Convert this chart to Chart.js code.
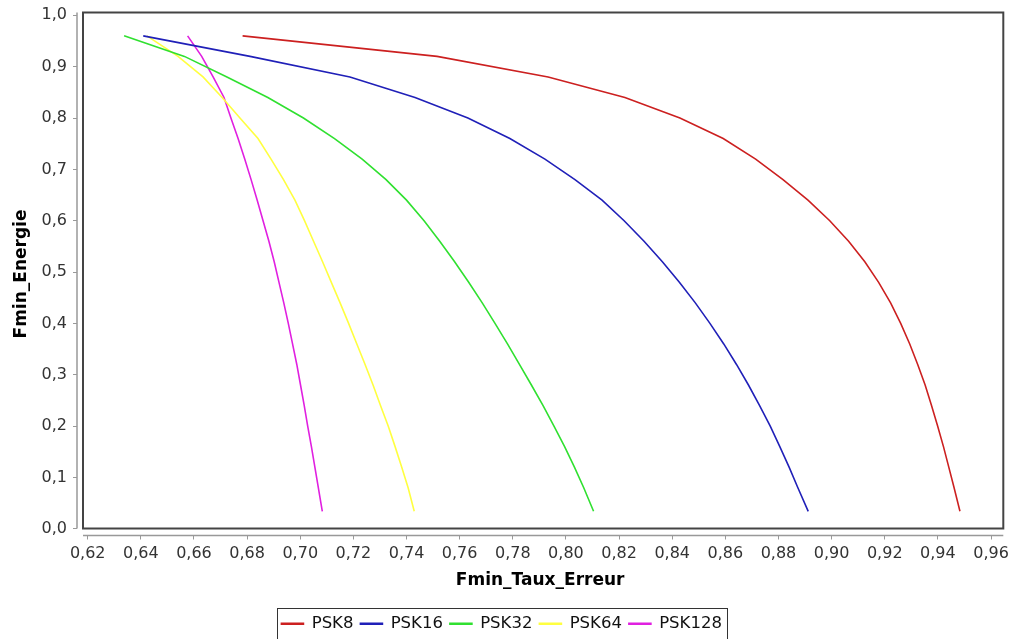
<!DOCTYPE html>
<html>
<head>
<meta charset="utf-8">
<script src="https://cdn.jsdelivr.net/npm/chart.js@4.4.0/dist/chart.umd.min.js"></script>
<style>
  html, body { margin: 0; padding: 0; background: #fff; }
  canvas { display: block; }
</style>
</head>
<body>
<canvas id="myChart" width="1013" height="639"></canvas>
<script>
// Fmin_Energie levels, shared by every curve
var energie = [0.96, 0.92, 0.88, 0.84, 0.80, 0.76, 0.72, 0.68, 0.64, 0.60, 0.56, 0.52,
  0.48, 0.44, 0.40, 0.36, 0.32, 0.28, 0.24, 0.20, 0.16, 0.12, 0.08, 0.034];

// Fmin_Taux_Erreur of each modulation, one value per energie level
var psk8 = [0.6783, 0.7515, 0.7933, 0.8222, 0.8429, 0.8592, 0.8714, 0.8817, 0.8911, 0.8993, 0.9064, 0.9125,
  0.9177, 0.9222, 0.9260, 0.9294, 0.9324, 0.9352, 0.9376, 0.9399, 0.9421, 0.9441, 0.9461, 0.9483];
var psk16 = [0.6409, 0.6811, 0.7187, 0.7432, 0.7631, 0.7789, 0.7921, 0.8034, 0.8136, 0.8219, 0.8294, 0.8363,
  0.8427, 0.8487, 0.8542, 0.8594, 0.8642, 0.8687, 0.8729, 0.8769, 0.8805, 0.8840, 0.8873, 0.8912];
var psk32 = [0.6337, 0.6564, 0.6724, 0.6878, 0.7012, 0.7129, 0.7233, 0.7323, 0.7400, 0.7466, 0.7525, 0.7581,
  0.7634, 0.7685, 0.7733, 0.7780, 0.7825, 0.7870, 0.7914, 0.7955, 0.7995, 0.8032, 0.8067, 0.8104];
var psk64 = [0.6423, 0.6540, 0.6634, 0.6706, 0.6773, 0.6841, 0.6890, 0.6937, 0.6980, 0.7016, 0.7050, 0.7084,
  0.7117, 0.7150, 0.7182, 0.7213, 0.7244, 0.7274, 0.7302, 0.7331, 0.7357, 0.7382, 0.7406, 0.7429];
var psk128 = [0.6576, 0.6629, 0.6672, 0.6713, 0.6739, 0.6766, 0.6791, 0.6815, 0.6838, 0.6860, 0.6882, 0.6902,
  0.6920, 0.6938, 0.6955, 0.6971, 0.6987, 0.7001, 0.7015, 0.7028, 0.7042, 0.7055, 0.7068, 0.7083];

var seriesNames = ['PSK8', 'PSK16', 'PSK32', 'PSK64', 'PSK128'];
var seriesValues = [psk8, psk16, psk32, psk64, psk128];
var seriesColors = ['#cc2020', '#2020b8', '#30e030', '#ffff40', '#e020e0'];

var xTicks = [0.62, 0.64, 0.66, 0.68, 0.70, 0.72, 0.74, 0.76, 0.78, 0.80, 0.82, 0.84, 0.86, 0.88, 0.90, 0.92, 0.94, 0.96];
var yTicks = [0.0, 0.1, 0.2, 0.3, 0.4, 0.5, 0.6, 0.7, 0.8, 0.9, 1.0];

var FONT = '"DejaVu Sans", Verdana, sans-serif';
var AXIS_GAP_X = 6; // space between y axis line and plot frame
var AXIS_GAP_Y = 7; // space between x axis line and plot frame

function commaLabel(v, digits) {
  return Number(v).toFixed(digits).replace('.', ',');
}

var datasets = seriesNames.map(function (name, i) {
  return {
    label: name,
    data: seriesValues[i].map(function (x, j) { return { x: x, y: energie[j] }; }),
    borderColor: seriesColors[i],
    backgroundColor: seriesColors[i],
    borderWidth: 1.6,
    showLine: true,
    pointRadius: 0,
    fill: false,
    tension: 0
  };
});

var framePlugin = {
  id: 'frame',
  beforeDraw: function (chart) {
    var ctx = chart.ctx;
    ctx.save();
    ctx.fillStyle = '#fff';
    ctx.fillRect(0, 0, chart.width, chart.height);
    ctx.restore();
  },
  afterDraw: function (chart) {
    var ctx = chart.ctx;
    var a = chart.chartArea;
    ctx.save();
    // axis lines, offset from the plot like the original
    ctx.strokeStyle = '#999';
    ctx.lineWidth = 1.5;
    ctx.beginPath();
    ctx.moveTo(a.left, a.top);
    ctx.lineTo(a.left, a.bottom - AXIS_GAP_Y);
    ctx.moveTo(a.left + AXIS_GAP_X, a.bottom);
    ctx.lineTo(a.right, a.bottom);
    ctx.stroke();
    // plot frame
    ctx.strokeStyle = '#444';
    ctx.lineWidth = 2;
    ctx.strokeRect(a.left + AXIS_GAP_X, a.top, a.right - a.left - AXIS_GAP_X, a.bottom - AXIS_GAP_Y - a.top);
    // legend border
    var boxes = chart.legend.legendHitBoxes;
    if (boxes && boxes.length) {
      var minX = Infinity, maxX = -Infinity, minY = Infinity;
      boxes.forEach(function (b) {
        minX = Math.min(minX, b.left);
        maxX = Math.max(maxX, b.left + b.width);
        minY = Math.min(minY, b.top);
      });
      ctx.strokeStyle = '#333';
      ctx.lineWidth = 1;
      ctx.strokeRect(Math.round(minX - 4) + 0.5, Math.round(minY - 8) + 0.5, Math.round(maxX - minX + 10), 60);
    }
    ctx.restore();
  }
};

new Chart(document.getElementById('myChart').getContext('2d'), {
  type: 'scatter',
  data: { datasets: datasets },
  plugins: [framePlugin],
  options: {
    responsive: false,
    animation: false,
    layout: { padding: { top: 12.5, right: 9.7, left: 0, bottom: -3 } },
    plugins: {
      tooltip: { enabled: false },
      legend: {
        position: 'bottom',
        labels: {
          boxWidth: 22,
          boxHeight: 1,
          padding: 7,
          color: '#111',
          font: { family: FONT, size: 16.5 }
        }
      }
    },
    scales: {
      x: {
        type: 'linear',
        min: 0.61597,
        max: 0.96462,
        afterFit: function (scale) {
          scale.height = 73;
          scale.paddingLeft = 0;
          scale.paddingRight = 0;
        },
        afterBuildTicks: function (scale) {
          scale.ticks = xTicks.map(function (v) { return { value: v }; });
        },
        ticks: {
          padding: 5,
          color: '#333',
          font: { family: FONT, size: 16 },
          maxRotation: 0,
          autoSkip: false,
          callback: function (v) { return commaLabel(v, 2); }
        },
        grid: { display: true, drawOnChartArea: false, drawTicks: true, tickLength: 4, color: '#999' },
        border: { display: false },
        title: {
          display: true,
          text: 'Fmin_Taux_Erreur',
          color: '#000',
          font: { family: FONT, size: 17, weight: 'bold' },
          padding: { top: 0, bottom: 18 }
        }
      },
      y: {
        type: 'linear',
        min: -0.0131,
        max: 1.0055,
        afterFit: function (scale) {
          scale.width = 77;
          scale.paddingTop = 0;
          scale.paddingBottom = 0;
        },
        afterBuildTicks: function (scale) {
          scale.ticks = yTicks.map(function (v) { return { value: v }; });
        },
        ticks: {
          padding: 6,
          color: '#333',
          font: { family: FONT, size: 16 },
          autoSkip: false,
          callback: function (v) { return commaLabel(v, 1); }
        },
        grid: { display: true, drawOnChartArea: false, drawTicks: true, tickLength: 4, color: '#999' },
        border: { display: false },
        title: {
          display: true,
          text: 'Fmin_Energie',
          color: '#000',
          font: { family: FONT, size: 17, weight: 'bold' },
          padding: { top: 11, bottom: 0 }
        }
      }
    }
  }
});
</script>
</body>
</html>
